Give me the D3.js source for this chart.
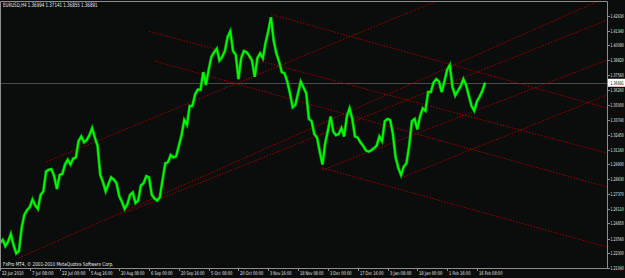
<!DOCTYPE html>
<html>
<head>
<meta charset="utf-8">
<script src="https://cdn.jsdelivr.net/npm/d3@7/dist/d3.min.js"></script>
<style>
  html, body { margin: 0; padding: 0; background: #0a0d0c; }
  svg { display: block; }
  text { font-family: "Liberation Sans Narrow", "DejaVu Sans Condensed", "Arial Narrow", sans-serif; }
</style>
</head>
<body>
<svg id="chart" width="625" height="278"></svg>
<script>
// ── Data ─────────────────────────────────────────────────────────────────────
// One close per bar slot (roughly one trading day), 22 Jun 2010 .. 18 Feb 2011
const closes = [
  1.2320, 1.2345, 1.2290, 1.2330, 1.2395, 1.2300, 1.2230, 1.2250, 1.2450, 1.2560,
  1.2600, 1.2625, 1.2690, 1.2640, 1.2610, 1.2730, 1.2760, 1.2930, 1.2945, 1.2950,
  1.2890, 1.2780, 1.2900, 1.2910, 1.2990, 1.3030, 1.2990, 1.3040, 1.3050, 1.3190,
  1.3230, 1.3180, 1.3200, 1.3240, 1.3300, 1.3220, 1.3150, 1.2900, 1.2840, 1.2760,
  1.2820, 1.2880, 1.2860, 1.2830, 1.2720, 1.2670, 1.2610, 1.2650, 1.2730, 1.2750,
  1.2660, 1.2680, 1.2810, 1.2830, 1.2890, 1.2880, 1.2730, 1.2700, 1.2680, 1.2710,
  1.2860, 1.3000, 1.3010, 1.3070, 1.3050, 1.3060, 1.3150, 1.3240, 1.3370, 1.3330,
  1.3490, 1.3490, 1.3590, 1.3630, 1.3630, 1.3780, 1.3670, 1.3800, 1.3910, 1.3950,
  1.3980, 1.3880, 1.3910, 1.3960, 1.4080, 1.4130, 1.3960, 1.3930, 1.3720, 1.3900,
  1.3960, 1.3950, 1.3920, 1.3880, 1.3740, 1.3900, 1.3940, 1.3900, 1.4030, 1.4130,
  1.4250, 1.4050, 1.3940, 1.3870, 1.3780, 1.3770, 1.3700, 1.3600, 1.3480, 1.3500,
  1.3600, 1.3700, 1.3650, 1.3600, 1.3380, 1.3360, 1.3250, 1.3220, 1.3100, 1.2990,
  1.3170, 1.3280, 1.3400, 1.3270, 1.3240, 1.3250, 1.3300, 1.3230, 1.3400, 1.3470,
  1.3380, 1.3230, 1.3220, 1.3180, 1.3150, 1.3110, 1.3100, 1.3110, 1.3130, 1.3150,
  1.3230, 1.3190, 1.3360, 1.3380, 1.3370, 1.3250, 1.3050, 1.2960, 1.2900, 1.2970,
  1.3000, 1.3150, 1.3360, 1.3380, 1.3290, 1.3400, 1.3470, 1.3450, 1.3610, 1.3610,
  1.3690, 1.3720, 1.3700, 1.3610, 1.3700, 1.3800, 1.3840, 1.3650, 1.3580, 1.3620,
  1.3660, 1.3720, 1.3670, 1.3580, 1.3490, 1.3450, 1.3530, 1.3570, 1.3620, 1.36891
];

const priceLabels = [
  "1.42630", "1.41340", "1.40080", "1.38820", "1.37560", "1.36260", "1.35000",
  "1.33740", "1.32450", "1.31160", "1.29930", "1.28630", "1.27370", "1.26110",
  "1.24850", "1.23560", "1.22300", "1.21040"
];

const timeLabels = [
  "22 Jun 2010", "7 Jul 08:00", "22 Jul 00:00", "5 Aug 16:00", "20 Aug 08:00",
  "6 Sep 00:00", "20 Sep 16:00", "5 Oct 08:00", "20 Oct 00:00", "3 Nov 16:00",
  "18 Nov 08:00", "3 Dec 00:00", "17 Dec 16:00", "3 Jan 08:00", "18 Jan 00:00",
  "1 Feb 16:00", "16 Feb 08:00"
];
const TIME_STEP = 11;   // bar slots between time labels

// trend lines: [bar1, price1, bar2, price2]
const trendLines = [
  [100, 1.4275, 224, 1.3473],
  [55, 1.4128, 224, 1.3088],
  [57, 1.3875, 224, 1.2797],
  [119, 1.2960, 224, 1.2284],
  [17, 1.3011, 162, 1.4397],
  [7, 1.2190, 220, 1.4380],
  [46, 1.2575, 224, 1.4226],
  [119, 1.2943, 224, 1.3884],
  [148, 1.2875, 224, 1.3584]
];

const symbol   = "EURUSD,H4";
const ohlc     = ["1.36994", "1.37141", "1.36855", "1.36891"];
const bid      = 1.36891;
const copyright = "FxPro MT4, \u00a9 2001-2010 MetaQuotes Software Corp.";

// ── Layout ───────────────────────────────────────────────────────────────────
const W = 625, H = 278;
const PLOT_R = 607;     // right edge of plot / price axis line
const PLOT_B = 268;     // bottom edge of plot
const BARS_VISIBLE = 224;
const TXT = "#e8e8e8";

const svg = d3.select("#chart");

svg.append("rect").attr("width", W).attr("height", H).attr("fill", "#0a0d0c");

const x = d3.scaleLinear().domain([0, BARS_VISIBLE]).range([0, PLOT_R]);
const y = d3.scaleLinear().domain([1.2104, 1.4263]).range([PLOT_B, 15.7]);

svg.append("clipPath").attr("id", "plotClip")
  .append("rect").attr("x", 0).attr("y", 1).attr("width", PLOT_R).attr("height", PLOT_B - 1);

const plot = svg.append("g").attr("clip-path", "url(#plotClip)");

// small helper: squeeze text to the narrow MT4 look
function smallText(g, str, px, py, size, perChar, fill) {
  return g.append("text")
    .attr("x", px).attr("y", py)
    .attr("fill", fill || TXT)
    .attr("font-size", size + "px")
    .attr("textLength", str.length * perChar)
    .attr("lengthAdjust", "spacingAndGlyphs")
    .text(str);
}

// ── Bid line ─────────────────────────────────────────────────────────────────
plot.append("line")
  .attr("x1", 0).attr("x2", PLOT_R)
  .attr("y1", Math.round(y(bid)) + 0.5).attr("y2", Math.round(y(bid)) + 0.5)
  .attr("stroke", "#4a4a4a").attr("stroke-width", 1);

// ── Trend lines ──────────────────────────────────────────────────────────────
plot.selectAll(".trend")
  .data(trendLines)
  .join("line")
  .attr("class", "trend")
  .attr("x1", d => x(d[0])).attr("y1", d => y(d[1]))
  .attr("x2", d => x(d[2])).attr("y2", d => y(d[3]))
  .attr("stroke", "#a00000")
  .attr("stroke-width", 1)
  .attr("stroke-dasharray", "1.5,1.5");

// ── Price line ───────────────────────────────────────────────────────────────
const line = d3.line().x((d, i) => x(i)).y(d => y(d));

plot.append("path").datum(closes)
  .attr("d", line).attr("fill", "none")
  .attr("stroke", "#00a000").attr("stroke-width", 3);

plot.append("path").datum(closes)
  .attr("d", line).attr("fill", "none")
  .attr("stroke", "#00ff00").attr("stroke-width", 1.6);

// ── Frame ────────────────────────────────────────────────────────────────────
svg.append("path")
  .attr("d", `M0.5,${PLOT_B + 0.5} V1.5 H${PLOT_R + 0.5} V${PLOT_B + 0.5} H0.5`)
  .attr("fill", "none").attr("stroke", "#8c8c8c").attr("stroke-width", 1);

// ── Price axis ───────────────────────────────────────────────────────────────
const pAxis = svg.append("g");
priceLabels.forEach(lbl => {
  const py = y(+lbl);
  pAxis.append("line")
    .attr("x1", PLOT_R).attr("x2", PLOT_R + 3)
    .attr("y1", Math.round(py) + 0.5).attr("y2", Math.round(py) + 0.5)
    .attr("stroke", "#8c8c8c");
  smallText(pAxis, lbl, PLOT_R + 3.5, py + 2, 5, 1.9);
});

// current price tag
const by = y(bid);
svg.append("rect")
  .attr("x", PLOT_R + 1).attr("y", by - 4).attr("width", W - PLOT_R).attr("height", 8)
  .attr("fill", "#ffffff");
smallText(svg, bid.toFixed(5), PLOT_R + 3.5, by + 2, 5, 1.9, "#000");

// ── Time axis ────────────────────────────────────────────────────────────────
const tAxis = svg.append("g");
timeLabels.forEach((lbl, i) => {
  const tx = Math.round(x(i * TIME_STEP)) + 0.5;
  tAxis.append("line")
    .attr("x1", tx).attr("x2", tx).attr("y1", PLOT_B).attr("y2", PLOT_B + 3)
    .attr("stroke", "#8c8c8c");
  smallText(tAxis, lbl, tx + 1.5, 275, 5, 1.95);
});

// ── Titles ───────────────────────────────────────────────────────────────────
smallText(svg, `${symbol}  ${ohlc.join(" ")}`, 3, 7, 6, 2.25);
smallText(svg, copyright, 3, 266, 5.5, 2.3);
</script>
</body>
</html>
